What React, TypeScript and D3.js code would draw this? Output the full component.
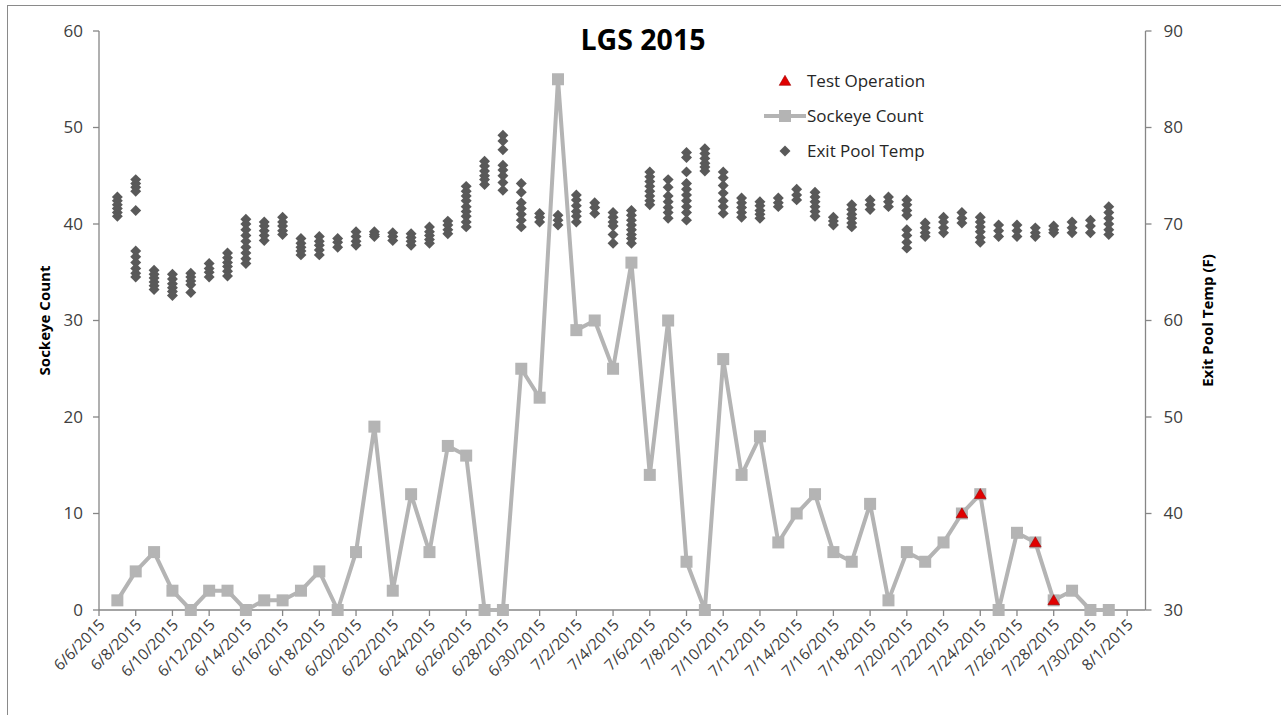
import React from "react";
import * as d3 from "d3";

// sockeye counts by day
const countDates = [
  "6/7/2015", "6/8/2015", "6/9/2015", "6/10/2015", "6/11/2015", "6/12/2015", "6/13/2015",
  "6/14/2015", "6/15/2015", "6/16/2015", "6/17/2015", "6/18/2015", "6/19/2015", "6/20/2015",
  "6/21/2015", "6/22/2015", "6/23/2015", "6/24/2015", "6/25/2015", "6/26/2015", "6/27/2015",
  "6/28/2015", "6/29/2015", "6/30/2015", "7/1/2015", "7/2/2015", "7/3/2015", "7/4/2015",
  "7/5/2015", "7/6/2015", "7/7/2015", "7/8/2015", "7/9/2015", "7/10/2015", "7/11/2015",
  "7/12/2015", "7/13/2015", "7/14/2015", "7/15/2015", "7/16/2015", "7/17/2015", "7/18/2015",
  "7/19/2015", "7/20/2015", "7/21/2015", "7/22/2015", "7/23/2015", "7/24/2015", "7/25/2015",
  "7/26/2015", "7/27/2015", "7/28/2015", "7/29/2015", "7/30/2015", "7/31/2015",
];
const sockeyeCount = [
  1, 4, 6, 2, 0, 2, 2,
  0, 1, 1, 2, 4, 0, 6,
  19, 2, 12, 6, 17, 16, 0,
  0, 25, 22, 55, 29, 30, 25,
  36, 14, 30, 5, 0, 26, 14,
  18, 7, 10, 12, 6, 5, 11,
  1, 6, 5, 7, 10, 12, 0,
  8, 7, 1, 2, 0, 0,
];

// test operation days
const testDates = ["7/23/2015", "7/24/2015", "7/27/2015", "7/28/2015"];
const testCounts = [10, 12, 7, 1];

// exit pool temp readings (F), several per day
const tempDates = countDates;
const tempReadings = [
  [70.8, 71.2, 71.6, 72.0, 72.4, 72.8],
  [74.6, 74.2, 73.8, 73.4, 71.4, 67.2, 66.6, 66.0, 65.4, 64.9, 64.5],
  [65.2, 64.8, 64.4, 64.0, 63.6, 63.2],
  [64.8, 64.3, 63.8, 63.4, 63.0, 62.6],
  [64.9, 64.5, 64.1, 63.7, 62.9],
  [65.9, 65.4, 65.0, 64.5],
  [67.0, 66.5, 66.0, 65.6, 65.1, 64.6],
  [70.5, 70.0, 69.4, 68.8, 68.2, 67.6, 67.0, 66.4, 65.9],
  [70.2, 69.8, 69.3, 68.8, 68.3],
  [70.7, 70.2, 69.8, 69.3, 68.9],
  [68.5, 68.0, 67.6, 67.2, 66.8],
  [68.7, 68.2, 67.8, 67.3, 66.8],
  [68.5, 68.1, 67.6],
  [69.2, 68.7, 68.2, 67.8],
  [69.2, 68.9, 68.7],
  [69.1, 68.7, 68.3],
  [69.0, 68.6, 68.2, 67.8],
  [69.7, 69.2, 68.8, 68.4, 68.0],
  [70.3, 69.9, 69.4, 69.0],
  [73.9, 73.4, 72.9, 72.4, 71.8, 71.3, 70.8, 70.2, 69.7],
  [76.5, 76.0, 75.5, 75.0, 74.6, 74.1],
  [79.2, 78.6, 77.7, 76.1, 75.6, 75.0, 74.3, 73.5],
  [74.2, 73.3, 72.2, 71.6, 71.0, 70.4, 69.7],
  [71.1, 70.7, 70.2],
  [70.9, 70.4, 69.9],
  [73.0, 72.5, 71.9, 71.3, 70.8, 70.2],
  [72.2, 71.7, 71.1],
  [71.2, 70.7, 70.2, 69.8, 68.9, 68.0],
  [71.4, 70.9, 70.4, 69.9, 69.4, 68.9, 68.5, 68.0],
  [75.4, 74.9, 74.4, 73.9, 73.4, 72.9, 72.4, 72.0],
  [74.6, 73.8, 72.9, 72.3, 71.7, 71.2, 70.6],
  [77.4, 76.9, 75.4, 74.2, 73.6, 73.0, 72.4, 71.8, 71.2, 70.4],
  [77.8, 77.3, 76.8, 76.3, 75.9, 75.5],
  [75.4, 74.8, 74.0, 73.2, 72.4, 71.8, 71.1],
  [72.7, 72.2, 71.7, 71.2, 70.7],
  [72.3, 71.9, 71.4, 71.0, 70.6],
  [72.7, 72.2, 71.8],
  [73.6, 73.0, 72.5],
  [73.3, 72.8, 72.3, 71.8, 71.3, 70.8],
  [70.7, 70.3, 69.9],
  [72.0, 71.5, 71.0, 70.6, 70.1, 69.7],
  [72.5, 72.0, 71.5],
  [72.8, 72.3, 71.8],
  [72.5, 72.0, 71.4, 70.9, 69.4, 68.8, 68.1, 67.5],
  [70.1, 69.6, 69.1, 68.7],
  [70.7, 70.2, 69.6, 69.1],
  [71.2, 70.6, 70.1],
  [70.7, 70.2, 69.7, 69.2, 68.6, 68.1],
  [69.9, 69.3, 68.7],
  [69.9, 69.3, 68.7],
  [69.6, 69.1, 68.7],
  [69.8, 69.4, 69.1],
  [70.2, 69.6, 69.1],
  [70.4, 69.8, 69.1],
  [71.8, 71.2, 70.6, 70.0, 69.4, 68.9],
];

const tickLabels = [
  "6/6/2015", "6/8/2015", "6/10/2015", "6/12/2015", "6/14/2015", "6/16/2015", "6/18/2015",
  "6/20/2015", "6/22/2015", "6/24/2015", "6/26/2015", "6/28/2015", "6/30/2015", "7/2/2015",
  "7/4/2015", "7/6/2015", "7/8/2015", "7/10/2015", "7/12/2015", "7/14/2015", "7/16/2015",
  "7/18/2015", "7/20/2015", "7/22/2015", "7/24/2015", "7/26/2015", "7/28/2015", "7/30/2015",
  "8/1/2015",
];
const countTicks = [0, 10, 20, 30, 40, 50, 60];
const tempTicks = [30, 40, 50, 60, 70, 80, 90];

const W = 1281;
const H = 715;
const FONT = "'Open Sans', 'DejaVu Sans', sans-serif";
const AXIS = "#868686";
const LINE_GRAY = "#b4b4b4";
const DIAMOND = "#595959";

const parse = d3.utcParse("%m/%d/%Y");

export default function App() {
  const x = d3
    .scaleUtc()
    .domain([parse("6/6/2015")!, parse("8/2/2015")!])
    .range([99, 1145.5]);
  const yL = d3.scaleLinear().domain([0, 60]).range([610, 31]);
  const yR = d3.scaleLinear().domain([30, 90]).range([610, 31]);

  const counts = countDates.map((d, i) => ({ date: parse(d)!, v: sockeyeCount[i] }));
  const tests = testDates.map((d, i) => ({ date: parse(d)!, v: testCounts[i] }));
  const temps = tempDates.flatMap((d, i) =>
    tempReadings[i].map((t) => ({ date: parse(d)!, t }))
  );

  const line = d3
    .line<{ date: Date; v: number }>()
    .x((d) => x(d.date))
    .y((d) => yL(d.v));

  const diamond = d3.symbol(d3.symbolSquare, 60)()!;
  const triangle = d3.symbol(d3.symbolTriangle, 58)()!;

  const [x0, x1] = x.range();
  const midY = (yL(0) + yL(60)) / 2;

  return (
    <div style={{ position: "absolute", left: 0, top: 0 }}>
      <svg width={W} height={H} style={{ display: "block", background: "#fff" }}>
        <rect x={7.5} y={5.5} width={W + 20} height={H + 20} fill="#fff" stroke="#8a8a8a" />

        {/* axes */}
        <g stroke={AXIS} strokeWidth={1.3} fill="none">
          <line x1={x0} x2={x0} y1={yL(60)} y2={yL(0)} />
          <line x1={x1} x2={x1} y1={yL(60)} y2={yL(0)} />
          <line x1={x0} x2={x1} y1={yL(0)} y2={yL(0)} />
          {countTicks.map((t) => (
            <line key={"l" + t} x1={x0 - 6} x2={x0} y1={yL(t)} y2={yL(t)} />
          ))}
          {tempTicks.map((t) => (
            <line key={"r" + t} x1={x1} x2={x1 + 6} y1={yR(t)} y2={yR(t)} />
          ))}
          {tickLabels.map((lab) => (
            <line key={"x" + lab} x1={x(parse(lab)!)} x2={x(parse(lab)!)} y1={yL(0)} y2={yL(0) + 6} />
          ))}
        </g>

        <g fontFamily={FONT} fontSize={17} fill="#404040">
          {countTicks.map((t) => (
            <text key={t} x={x0 - 16} y={yL(t)} dy="0.35em" textAnchor="end">
              {t}
            </text>
          ))}
          {tempTicks.map((t) => (
            <text key={t} x={x1 + 18} y={yR(t)} dy="0.35em" textAnchor="start">
              {t}
            </text>
          ))}
        </g>
        <g fontFamily={FONT} fontSize={15.5} fill="#404040">
          {tickLabels.map((lab) => (
            <text
              key={lab}
              transform={`translate(${x(parse(lab)!) + 3},${yL(0) + 12}) rotate(-45)`}
              textAnchor="end"
              dy="0.35em"
            >
              {lab}
            </text>
          ))}
        </g>

        {/* sockeye count line */}
        <path d={line(counts)!} fill="none" stroke={LINE_GRAY} strokeWidth={4} strokeLinejoin="round" />
        {counts.map((d, i) => (
          <rect key={i} x={x(d.date) - 6} y={yL(d.v) - 6} width={12} height={12} fill={LINE_GRAY} />
        ))}

        {/* exit pool temp */}
        {temps.map((d, i) => (
          <path
            key={i}
            d={diamond}
            transform={`translate(${x(d.date)},${yR(d.t)}) rotate(45)`}
            fill={DIAMOND}
          />
        ))}

        {/* test operation */}
        {tests.map((d, i) => (
          <path
            key={i}
            d={triangle}
            transform={`translate(${x(d.date)},${yL(d.v) + 1})`}
            fill="#e00000"
            stroke="#a00000"
            strokeWidth={0.6}
          />
        ))}

        {/* titles */}
        <text x={643} y={50} textAnchor="middle" fontFamily={FONT} fontWeight="bold" fontSize={28.5} fill="#000">
          LGS 2015
        </text>
        <text
          transform={`translate(50,${midY}) rotate(-90)`}
          textAnchor="middle"
          fontFamily={FONT}
          fontWeight="bold"
          fontSize={15}
          fill="#000"
        >
          Sockeye Count
        </text>
        <text
          transform={`translate(1213,${midY}) rotate(-90)`}
          textAnchor="middle"
          fontFamily={FONT}
          fontWeight="bold"
          fontSize={15}
          fill="#000"
        >
          Exit Pool Temp (F)
        </text>

        {/* legend */}
        <g fontFamily={FONT} fontSize={17} fill="#262626">
          <path d={triangle} transform="translate(785,82)" fill="#e00000" stroke="#a00000" strokeWidth={0.6} />
          <text x={807} y={81} dy="0.35em">Test Operation</text>
          <line x1={764} x2={806} y1={116} y2={116} stroke={LINE_GRAY} strokeWidth={4} />
          <rect x={779} y={110} width={12} height={12} fill={LINE_GRAY} />
          <text x={807} y={116} dy="0.35em">Sockeye Count</text>
          <path d={diamond} transform="translate(785,151) rotate(45)" fill={DIAMOND} />
          <text x={807} y={151} dy="0.35em">Exit Pool Temp</text>
        </g>
      </svg>
    </div>
  );
}
